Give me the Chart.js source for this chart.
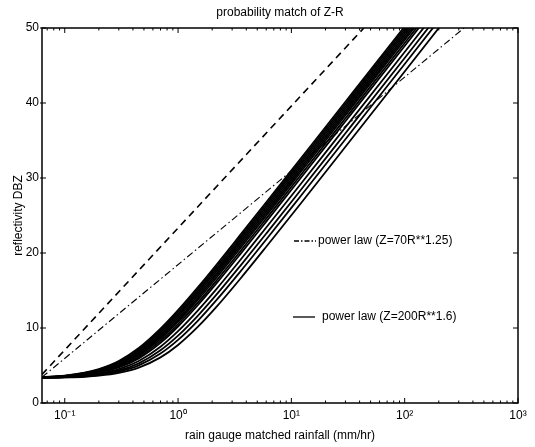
<!DOCTYPE html>
<html><head><meta charset="utf-8">
<script src="https://cdn.jsdelivr.net/npm/chart.js@4.4.1/dist/chart.umd.min.js"></script>
<style>html,body{margin:0;padding:0;background:#fff}#wrap{width:535px;height:447px;position:relative}</style>
</head><body><div id="wrap"><canvas id="c"></canvas></div>
<script>
// ---- data ----
const rainRates = [0.063,0.1,0.15,0.2,0.3,0.45,0.7,1,1.5,2.2,3.5,6,12,30,100,400];
const matched01 = [3.45,3.66,4.05,4.53,5.61,7.33,9.91,12.38,15.45,18.50,22.31,26.76,32.53,40.16,50.2,61.8];
const matched02 = [3.44,3.63,4.00,4.45,5.49,7.15,9.68,12.12,15.17,18.21,22.01,26.46,32.23,39.86,49.9,61.5];
const matched03 = [3.43,3.61,3.96,4.38,5.37,6.98,9.45,11.85,14.89,17.92,21.71,26.16,31.93,39.56,49.6,61.2];
const matched04 = [3.43,3.59,3.91,4.32,5.26,6.81,9.22,11.60,14.61,17.63,21.42,25.86,31.63,39.26,49.3,60.9];
const matched05 = [3.42,3.57,3.88,4.26,5.16,6.65,9.00,11.34,14.33,17.34,21.13,25.56,31.33,38.96,49.0,60.6];
const matched06 = [3.42,3.55,3.84,4.20,5.06,6.49,8.78,11.09,14.06,17.06,20.84,25.27,31.03,38.66,48.7,60.3];
const matched07 = [3.41,3.54,3.81,4.15,4.96,6.34,8.56,10.84,13.79,16.77,20.54,24.97,30.73,38.36,48.4,60.0];
const matched08 = [3.41,3.52,3.77,4.08,4.84,6.13,8.29,10.52,13.42,16.39,20.14,24.58,30.33,37.96,48.0,59.6];
const matched09 = [3.40,3.50,3.73,4.02,4.73,5.95,8.02,10.20,13.07,16.01,19.75,24.19,29.93,37.56,47.6,59.2];
const matched10 = [3.39,3.46,3.66,3.90,4.52,5.61,7.51,9.58,12.36,15.25,18.96,23.40,29.13,36.76,46.8,58.4];
const matched11 = [3.37,3.44,3.60,3.81,4.34,5.29,7.03,8.98,11.66,14.51,18.19,22.59,28.33,35.96,46.0,57.6];
const matched12 = [3.36,3.42,3.55,3.73,4.18,5.02,6.59,8.41,10.99,13.78,17.42,21.80,27.54,35.16,45.2,56.8];
const matched13 = [3.35,3.41,3.50,3.64,4.01,4.72,6.08,7.74,10.18,12.88,16.47,20.83,26.54,34.16,44.2,55.8];
const matchedCurves = [matched01,matched02,matched03,matched04,matched05,matched06,matched07,matched08,matched09,matched10,matched11,matched12,matched13];

const law200Rain = [0.063, 43.6];
const law200DBZ  = [3.80, 50];
const law70Rain  = [0.063, 334];
const law70DBZ   = [3.44, 50];

const xTickValues = [0.1, 1, 10, 100, 1000];
const xTickLabels = ['10\u207B\u00B9','10\u2070','10\u00B9','10\u00B2','10\u00B3'];
const yTickValues = [0, 10, 20, 30, 40, 50];
const legendLabels = ['power law (Z=70R**1.25)', 'power law (Z=200R**1.6)'];
const titleText = 'probability match of Z-R';
const xTitle = 'rain gauge matched rainfall (mm/hr)';
const yTitle = 'reflectivity DBZ';
const xMin = 0.063, xMax = 1000, yMin = 0, yMax = 50;

// ---- chart ----
const FONT = '"Liberation Sans", Arial, Helvetica, sans-serif';
Chart.defaults.font.family = FONT;
Chart.defaults.font.size = 12;
Chart.defaults.color = '#000';

const datasets = matchedCurves.map((ys, i) => ({
  label: 'matched ' + (i + 1),
  data: rainRates.map((r, j) => ({x: r, y: ys[j]})),
  borderColor: '#000', borderWidth: 1.8, pointRadius: 0,
  cubicInterpolationMode: 'monotone', fill: false
}));
datasets.push({
  label: legendLabels[1],
  data: law200Rain.map((r, j) => ({x: r, y: law200DBZ[j]})),
  borderColor: '#000', borderWidth: 1.6, borderDash: [7, 5], pointRadius: 0, fill: false
});
datasets.push({
  label: legendLabels[0],
  data: law70Rain.map((r, j) => ({x: r, y: law70DBZ[j]})),
  borderColor: '#000', borderWidth: 1.1, borderDash: [7, 3, 1.5, 3], pointRadius: 0, fill: false
});

function isDecade(v) { const l = Math.log10(v); return Math.abs(l - Math.round(l)) < 1e-6; }

const framePlugin = {
  id: 'matlabFrame',
  afterDraw(chart) {
    const {ctx, chartArea: a, scales: {x, y}} = chart;
    ctx.save();
    ctx.strokeStyle = '#000';
    ctx.lineWidth = 1.5;
    ctx.strokeRect(a.left, a.top, a.right - a.left, a.bottom - a.top);
    ctx.lineWidth = 1;
    ctx.beginPath();
    x.ticks.forEach(t => {
      const px = x.getPixelForValue(t.value);
      const len = isDecade(t.value) ? 5 : 2.5;
      ctx.moveTo(px, a.bottom); ctx.lineTo(px, a.bottom - len);
      ctx.moveTo(px, a.top); ctx.lineTo(px, a.top + len);
    });
    y.ticks.forEach(t => {
      const py = y.getPixelForValue(t.value);
      ctx.moveTo(a.left - 2, py); ctx.lineTo(a.left + 4, py);
      ctx.moveTo(a.right, py); ctx.lineTo(a.right - 5, py);
    });
    ctx.stroke();
    ctx.restore();
  }
};

const legendPlugin = {
  id: 'inlineLegend',
  afterDatasetsDraw(chart) {
    const {ctx} = chart;
    const entries = [
      {label: legendLabels[0], x0: 294, x1: 316, y: 241, tx: 318, dash: [5, 2, 1.5, 2]},
      {label: legendLabels[1], x0: 293, x1: 315, y: 317, tx: 322, dash: []}
    ];
    ctx.save();
    ctx.font = '12px ' + FONT;
    ctx.fillStyle = '#000';
    ctx.strokeStyle = '#000';
    ctx.textBaseline = 'middle';
    ctx.textAlign = 'left';
    entries.forEach(e => {
      ctx.lineWidth = 1.3;
      ctx.setLineDash(e.dash);
      ctx.beginPath(); ctx.moveTo(e.x0, e.y); ctx.lineTo(e.x1, e.y); ctx.stroke();
      ctx.setLineDash([]);
      ctx.fillText(e.label, e.tx, e.y);
    });
    ctx.restore();
  }
};

new Chart(document.getElementById('c'), {
  type: 'line',
  data: {datasets},
  options: {
    responsive: true, maintainAspectRatio: false, animation: false,
    layout: {padding: {left: 0, right: 17, top: 0, bottom: 0}},
    plugins: {
      legend: {display: false},
      tooltip: {enabled: false},
      title: {display: true, text: titleText, fullSize: false, color: '#000',
        font: {size: 12, weight: 'normal'}, padding: {top: 5, bottom: 8.6}}
    },
    scales: {
      x: {
        type: 'logarithmic', min: xMin, max: xMax,
        grid: {display: false, drawTicks: false}, border: {display: false},
        afterBuildTicks: (scale) => {
          const t = [];
          for (let e = -2; e < 3; e++) for (let s = 1; s < 10; s++) {
            const v = s * Math.pow(10, e);
            if (v >= xMin && v <= xMax) t.push({value: v});
          }
          t.push({value: 1000});
          scale.ticks = t;
        },
        ticks: {
          autoSkip: false, maxRotation: 0, minRotation: 0, padding: 5, color: '#000',
          callback: (v) => { const i = xTickValues.findIndex(tv => Math.abs(Math.log10(tv) - Math.log10(v)) < 1e-6); return i >= 0 ? xTickLabels[i] : ''; }
        },
        title: {display: true, text: xTitle, color: '#000', font: {size: 12}, padding: {top: 0, bottom: 3.8}},
        afterFit: (s) => { s.height = 44; }
      },
      y: {
        type: 'linear', min: yMin, max: yMax,
        grid: {display: false, drawTicks: false}, border: {display: false},
        afterBuildTicks: (scale) => { scale.ticks = yTickValues.map(v => ({value: v})); },
        ticks: {padding: 3, color: '#000', font: {size: 12}},
        title: {display: true, text: yTitle, color: '#000', font: {size: 12}, padding: {top: 11, bottom: 0}},
        afterFit: (s) => { s.width = 42; }
      }
    }
  },
  plugins: [legendPlugin, framePlugin]
});
</script></body></html>
